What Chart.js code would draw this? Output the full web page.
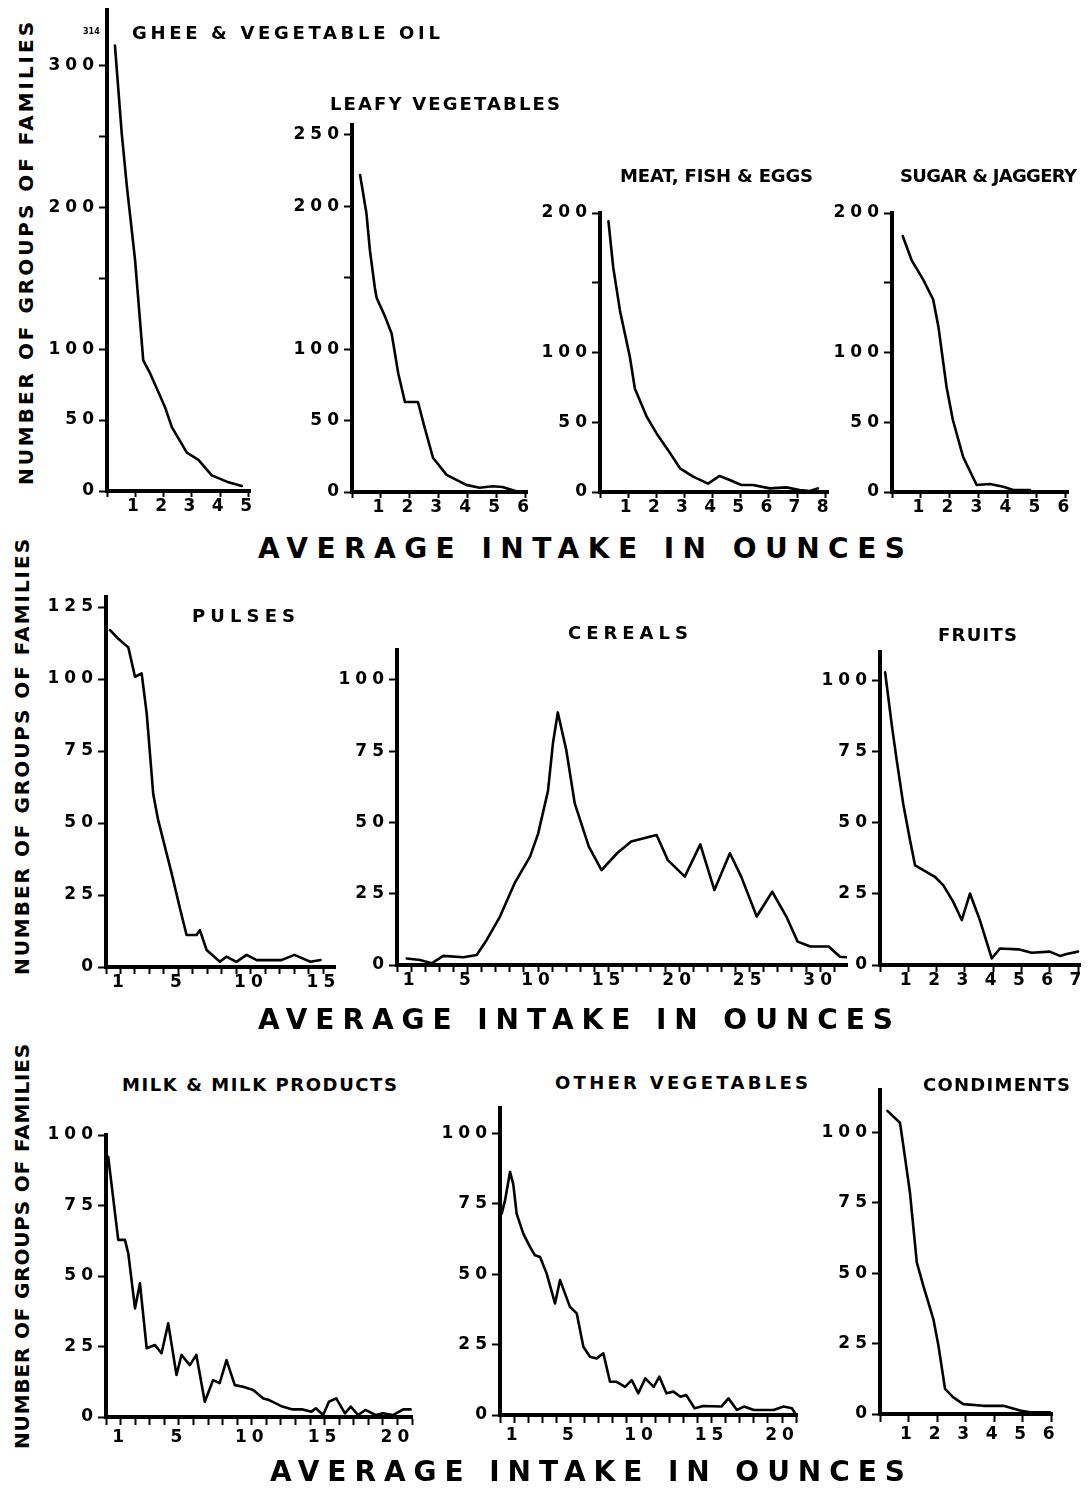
<!DOCTYPE html>
<html>
<head>
<meta charset="utf-8">
<script src="https://cdn.jsdelivr.net/npm/chart.js@4.4.1/dist/chart.umd.min.js"></script>
<style>
  html, body { margin: 0; padding: 0; background: #fff; }
  #sheet { position: relative; width: 1090px; height: 1496px; overflow: hidden; background: #fff; }
  #sheet canvas { position: absolute; }
  .lbl {
    position: absolute; white-space: pre; line-height: 1; color: #000;
    font-family: "DejaVu Sans", "Liberation Sans", sans-serif; font-weight: bold;
  }
</style>
</head>
<body>
<div id="sheet"></div>
<script>
// values: x = average intake (oz), y = number of groups of families
const gheeX = [0.28, 0.52, 0.70, 0.99, 1.28, 1.52, 1.81, 2.05, 2.29, 2.82, 3.23, 3.70, 4.23, 4.76];
const gheeY = [314, 252, 215, 163, 92, 83, 70, 59, 45, 27, 22, 11, 6.6, 3.5];

const leafyX = [0.28, 0.50, 0.62, 0.79, 0.85, 1.14, 1.37, 1.60, 1.83, 2.28, 2.50, 2.80, 3.27, 3.95, 4.41, 4.86, 5.20, 5.68];
const leafyY = [222, 195, 169, 143, 136, 123, 111, 83, 63, 63, 46, 24, 12, 5, 3, 4, 3.5, 0.5];

const meatX = [0.30, 0.47, 0.71, 1.06, 1.24, 1.66, 2.01, 2.42, 2.84, 3.31, 3.84, 4.25, 4.61, 5.02, 5.44, 6.03, 6.62, 7.09, 7.45, 7.74];
const meatY = [194, 161, 130, 97, 74, 54, 42, 30, 17, 11, 6, 11.5, 8.6, 5, 5, 2.6, 3.3, 1.4, 0.7, 2.6];

const sugarX = [0.37, 0.68, 1.08, 1.42, 1.60, 1.88, 2.10, 2.45, 2.92, 3.38, 3.84, 4.18, 4.76];
const sugarY = [183.5, 166, 152, 138, 118.5, 75.5, 51.6, 25.3, 5, 5.7, 3.8, 1.4, 1.4];

const pulsesX = [0.28, 0.85, 1.54, 2.00, 2.46, 2.81, 3.26, 3.60, 4.53, 5.10, 5.56, 6.25, 6.48, 6.94, 7.86, 8.30, 9.00, 9.70, 10.4, 11.1, 12.1, 13.0, 14.1, 14.8];
const pulsesY = [117, 114, 111, 100.8, 102, 88, 60, 51, 32.5, 20.4, 11.1, 11.1, 12.8, 5.9, 1.8, 3.6, 1.8, 4.2, 2.4, 2.4, 2.4, 4.2, 1.8, 2.4];

const cerealsX = [0.69, 1.63, 2.46, 3.28, 4.70, 5.65, 6.36, 7.30, 8.37, 9.43, 10.0, 10.7, 11.06, 11.4, 12.0, 12.6, 13.6, 14.5, 15.6, 16.6, 17.5, 18.4, 19.2, 20.4, 21.5, 22.5, 23.6, 24.4, 25.5, 26.6, 27.6, 28.4, 29.3, 30.6, 31.4, 31.9];
const cerealsY = [2.3, 1.75, 0.6, 3.2, 2.7, 3.5, 8.8, 17, 29, 38, 46, 61, 78, 88.6, 75.4, 56.7, 41.5, 33.3, 39.2, 43.3, 44.5, 45.6, 36.8, 31, 42.3, 26.3, 39.2, 31, 17, 25.7, 17, 8.2, 6.5, 6.5, 2.9, 2.7];

const fruitsX = [0.18, 0.41, 0.59, 0.82, 1.06, 1.24, 1.94, 2.24, 2.59, 2.89, 3.18, 3.53, 3.95, 4.24, 4.89, 5.36, 6.00, 6.36, 6.60, 7.00];
const fruitsY = [102.9, 84.8, 72, 56.7, 43.9, 35, 31, 28, 22.2, 15.8, 25.1, 15.8, 2.3, 5.8, 5.5, 4.3, 4.7, 3.2, 3.9, 4.7];

const milkX = [0.15, 0.84, 1.30, 1.53, 1.99, 2.33, 2.79, 3.36, 3.81, 4.27, 4.84, 5.18, 5.75, 6.20, 6.78, 7.35, 7.80, 8.27, 8.84, 9.41, 10.1, 10.8, 11.2, 12.1, 12.8, 13.5, 14.1, 14.4, 14.9, 15.3, 15.8, 16.4, 16.8, 17.3, 17.8, 18.5, 19.0, 19.7, 20.4, 20.9];
const milkY = [92.3, 62.8, 62.8, 58, 38.5, 47.4, 24.4, 25.5, 22.6, 33.2, 14.9, 22, 18.4, 22, 5.4, 13.1, 12, 20.2, 11.3, 10.7, 9.6, 6.6, 6, 3.7, 2.7, 2.7, 1.9, 3.1, 0.7, 5.4, 6.6, 1.3, 3.7, 0.7, 2.5, 0.7, 1.3, 0.7, 2.7, 2.7];

const otherVegX = [0.12, 0.35, 0.71, 0.94, 1.18, 1.65, 2.13, 2.48, 2.84, 3.31, 3.90, 4.26, 4.96, 5.44, 5.91, 6.38, 6.86, 7.33, 7.80, 8.27, 8.87, 9.34, 9.81, 10.3, 10.9, 11.3, 11.8, 12.3, 12.8, 13.2, 13.8, 14.4, 15.7, 16.2, 16.8, 17.3, 18.0, 19.4, 20.1, 20.7, 21.0];
const otherVegY = [71.5, 76, 86.3, 82, 71.5, 64.4, 59.7, 56.7, 56.1, 50.2, 39.6, 47.9, 38.4, 36.1, 24.2, 20.7, 20.1, 21.9, 11.8, 11.8, 10, 12.4, 7.7, 13, 10, 13.6, 7.7, 8.3, 6.5, 7.1, 2.4, 3.2, 3, 5.9, 1.8, 3, 1.8, 1.8, 3, 2.4, 0];

const condimentsX = [0.26, 0.70, 0.82, 1.05, 1.29, 1.52, 1.87, 2.05, 2.28, 2.57, 2.92, 3.62, 4.33, 4.91, 5.26, 5.96];
const condimentsY = [107.6, 103.4, 95.1, 78.6, 53.8, 45.5, 33.7, 24.2, 8.9, 5.9, 3.5, 2.9, 2.9, 1.2, 0.6, 0.6];

// tick labels printed on the axes (other ticks are bare marks)
const gheeYLabels = [0, 50, 100, 200, 300];
const leafyYLabels = [0, 50, 100, 200, 250];
const meatYLabels = [0, 50, 100, 200];
const sugarYLabels = [0, 50, 100, 200];
const pulsesYLabels = [0, 25, 50, 75, 100, 125];
const countYLabels = [0, 25, 50, 75, 100];

const gheeXLabels = [1, 2, 3, 4, 5];
const leafyXLabels = [1, 2, 3, 4, 5, 6];
const meatXLabels = [1, 2, 3, 4, 5, 6, 7, 8];
const sugarXLabels = [1, 2, 3, 4, 5, 6];
const pulsesXLabels = [1, 5, 10, 15];
const cerealsXLabels = [1, 5, 10, 15, 20, 25, 30];
const fruitsXLabels = [1, 2, 3, 4, 5, 6, 7];
const milkXLabels = [1, 5, 10, 15, 20];
const otherVegXLabels = [1, 5, 10, 15, 20];
const condimentsXLabels = [1, 2, 3, 4, 5, 6];

const xAxisTitle = 'AVERAGE INTAKE IN OUNCES';
const yAxisTitle = 'NUMBER OF GROUPS OF FAMILIES';
const gheePeakNote = '314';

// ---- layout (page pixels) ----
// PAD_TOP leaves room above the plot so a tick label sitting on the axis top is not cut
const Y_AXIS_W = 64, X_AXIS_H = 40, PAD_TOP = 14, PAD_RIGHT = 16;
const TICK_FONT = { family: '"DejaVu Sans", sans-serif', size: 17, weight: 'bold' };
const ROWS = [
  { xTick: 6, xPad: -1 },
  { xTick: 7, xPad: -2 },
  { xTick: 8, xPad: 2 }
];

// note: a yMax that is (almost) a whole number of steps makes Chart.js respace the
// ticks, so axis tops either sit exactly on a step or clearly between two
const PANELS = [
  { title: 'GHEE & VEGETABLE OIL', xs: gheeX, ys: gheeY, xLabels: gheeXLabels, yLabels: gheeYLabels,
    xMax: 5.05, yMax: 339, yStep: 50, row: 0, box: { x: 107, top: 10, bottom: 491, right: 250 },
    head: { left: 132, width: 308, cy: 33 } },
  { title: 'LEAFY VEGETABLES', xs: leafyX, ys: leafyY, xLabels: leafyXLabels, yLabels: leafyYLabels,
    xMax: 6.05, yMax: 257, yStep: 50, row: 0, box: { x: 352, top: 125, bottom: 492, right: 527 },
    head: { left: 330, width: 230, cy: 104 } },
  { title: 'MEAT, FISH & EGGS', xs: meatX, ys: meatY, xLabels: meatXLabels, yLabels: meatYLabels,
    xMax: 8.1, yMax: 200, yStep: 50, row: 0, box: { x: 600, top: 213, bottom: 492, right: 828 },
    head: { left: 620, width: 193, cy: 176 } },
  { title: 'SUGAR & JAGGERY', xs: sugarX, ys: sugarY, xLabels: sugarXLabels, yLabels: sugarYLabels,
    xMax: 6.07, yMax: 200, yStep: 50, row: 0, box: { x: 892, top: 213, bottom: 492, right: 1068 },
    head: { left: 900, width: 177, cy: 176 } },
  { title: 'PULSES', xs: pulsesX, ys: pulsesY, xLabels: pulsesXLabels, yLabels: pulsesYLabels,
    xMax: 15.8, yMax: 128.5, yStep: 25, row: 1, box: { x: 106, top: 597, bottom: 967, right: 335 },
    head: { left: 192, width: 103, cy: 616 } },
  { title: 'CEREALS', xs: cerealsX, ys: cerealsY, xLabels: cerealsXLabels, yLabels: countYLabels,
    xMax: 31.9, yMax: 110.5, yStep: 25, row: 1, box: { x: 397, top: 650, bottom: 965, right: 847 },
    head: { left: 568, width: 120, cy: 633 } },
  { title: 'FRUITS', xs: fruitsX, ys: fruitsY, xLabels: fruitsXLabels, yLabels: countYLabels,
    xMax: 7.07, yMax: 110, yStep: 25, row: 1, box: { x: 880, top: 652, bottom: 965, right: 1080 },
    head: { left: 938, width: 79, cy: 635 } },
  { title: 'MILK & MILK PRODUCTS', xs: milkX, ys: milkY, xLabels: milkXLabels, yLabels: countYLabels,
    xMax: 21, yMax: 100, yStep: 25, row: 2, box: { x: 106, top: 1135, bottom: 1417, right: 412 },
    head: { left: 122, width: 275, cy: 1085 } },
  { title: 'OTHER VEGETABLES', xs: otherVegX, ys: otherVegY, xLabels: otherVegXLabels, yLabels: countYLabels,
    xMax: 21.06, yMax: 109, yStep: 25, row: 2, box: { x: 500, top: 1108, bottom: 1415, right: 797 },
    head: { left: 555, width: 253, cy: 1083 } },
  { title: 'CONDIMENTS', xs: condimentsX, ys: condimentsY, xLabels: condimentsXLabels, yLabels: countYLabels,
    xMax: 6.03, yMax: 115, yStep: 25, row: 2, box: { x: 880, top: 1090, bottom: 1414, right: 1052 },
    head: { left: 923, width: 147, cy: 1085 } }
];

const sheet = document.getElementById('sheet');

// canvas has no CSS letter-spacing, so set it on the context before every draw
const tickSpacing = {
  id: 'tickSpacing',
  beforeDraw(chart) { chart.ctx.letterSpacing = '5px'; }
};

// pin axis boxes to fixed sizes so the plot area lands exactly on the page box
function fixBox(scale, dim, size) {
  scale[dim] = size;
  scale.paddingLeft = scale.paddingRight = scale.paddingTop = scale.paddingBottom = 0;
}

function axisStyle() {
  return {
    border: { color: '#000', width: 4 },
    grid: { drawOnChartArea: false, tickWidth: 2, tickColor: '#000' }
  };
}

function mountPanel(p) {
  const row = ROWS[p.row];
  const w = p.box.right - p.box.x + Y_AXIS_W + PAD_RIGHT;
  const h = p.box.bottom - p.box.top + X_AXIS_H + PAD_TOP;
  const c = document.createElement('canvas');
  c.width = w; c.height = h;
  c.style.width = w + 'px'; c.style.height = h + 'px';
  c.style.left = (p.box.x - Y_AXIS_W) + 'px';
  c.style.top = (p.box.top - PAD_TOP) + 'px';
  sheet.appendChild(c);

  const xAxis = axisStyle(), yAxis = axisStyle();
  xAxis.grid.tickLength = row.xTick;
  yAxis.grid.tickLength = 8;

  new Chart(c, {
    type: 'line',
    data: {
      datasets: [{
        data: p.xs.map((x, i) => ({ x, y: p.ys[i] })),
        borderColor: '#000', borderWidth: 2.6, pointRadius: 0, tension: 0, fill: false,
        borderJoinStyle: 'round', borderCapStyle: 'round'
      }]
    },
    options: {
      responsive: false, animation: false, devicePixelRatio: 1, events: [],
      layout: { padding: { top: PAD_TOP, right: PAD_RIGHT, left: 0, bottom: 0 } },
      plugins: { legend: { display: false }, tooltip: { enabled: false } },
      scales: {
        x: {
          type: 'linear', min: 0, max: p.xMax, ...xAxis,
          afterFit: s => fixBox(s, 'height', X_AXIS_H),
          ticks: {
            stepSize: 1, includeBounds: false, autoSkip: false, maxRotation: 0, maxTicksLimit: 100,
            padding: row.xPad, color: '#000', font: TICK_FONT,
            callback: v => p.xLabels.includes(v) ? String(v) : ''
          }
        },
        y: {
          type: 'linear', min: 0, max: p.yMax, ...yAxis,
          afterFit: s => fixBox(s, 'width', Y_AXIS_W),
          ticks: {
            stepSize: p.yStep, includeBounds: false, autoSkip: false, maxTicksLimit: 100,
            padding: 0, color: '#000', font: TICK_FONT,
            callback: v => p.yLabels.includes(v) ? String(v) : ''
          }
        }
      }
    },
    plugins: [tickSpacing]
  });
}

// HTML text, letter-spaced out to the width it has in the scan
function placeText(text, opts) {
  const el = document.createElement('div');
  el.className = 'lbl';
  el.textContent = text;
  el.style.fontSize = opts.size + 'px';
  sheet.appendChild(el);
  if (opts.width) {
    const natural = el.getBoundingClientRect().width;
    el.style.letterSpacing = ((opts.width - natural) / (text.length - 1)).toFixed(2) + 'px';
  }
  if (opts.rotate) {
    el.style.left = opts.cx + 'px';
    el.style.top = opts.cy + 'px';
    el.style.transform = 'translate(-50%, -50%) rotate(-90deg)';
  } else {
    el.style.left = opts.left + 'px';
    el.style.top = opts.cy + 'px';
    el.style.transform = 'translateY(-50%)';
  }
  return el;
}

PANELS.forEach(p => {
  mountPanel(p);
  placeText(p.title, { left: p.head.left, cy: p.head.cy, width: p.head.width, size: 18 });
});

placeText(xAxisTitle, { left: 258, cy: 549, width: 647, size: 28 });
placeText(xAxisTitle, { left: 258, cy: 1020, width: 635, size: 28 });
placeText(xAxisTitle, { left: 270, cy: 1472, width: 635, size: 28 });

placeText(yAxisTitle, { cx: 26, cy: 252, width: 463, size: 20, rotate: true });
placeText(yAxisTitle, { cx: 22, cy: 756, width: 436, size: 20, rotate: true });
placeText(yAxisTitle, { cx: 22, cy: 1246, width: 405, size: 20, rotate: true });

placeText(gheePeakNote, { left: 83, cy: 32, size: 8 });
</script>
</body>
</html>
